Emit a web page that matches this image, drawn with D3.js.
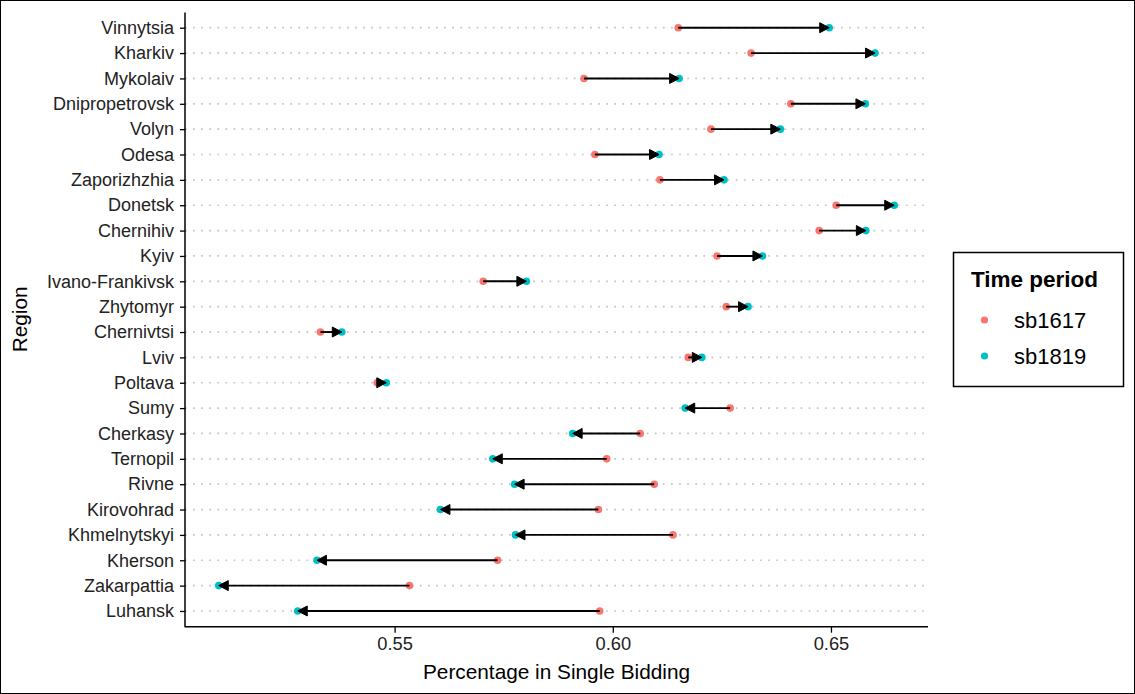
<!DOCTYPE html>
<html>
<head>
<meta charset="utf-8">
<script src="https://cdn.jsdelivr.net/npm/d3@7"></script>
<style>
  html, body { margin: 0; padding: 0; background: #fff; }
  svg { display: block; font-family: "Liberation Sans", Arial, sans-serif; }
</style>
</head>
<body>
<svg id="chart" width="1135" height="694"></svg>
<script>
const regions = ["Vinnytsia","Kharkiv","Mykolaiv","Dnipropetrovsk","Volyn","Odesa","Zaporizhzhia","Donetsk","Chernihiv","Kyiv","Ivano-Frankivsk","Zhytomyr","Chernivtsi","Lviv","Poltava","Sumy","Cherkasy","Ternopil","Rivne","Kirovohrad","Khmelnytskyi","Kherson","Zakarpattia","Luhansk"];
const sb1617 = [0.6150,0.6317,0.5934,0.6408,0.6225,0.5959,0.6108,0.6512,0.6473,0.6239,0.5703,0.6260,0.5330,0.6173,0.5460,0.6269,0.6063,0.5986,0.6095,0.5967,0.6138,0.5736,0.5534,0.5970];
const sb1819 = [0.6496,0.6601,0.6152,0.6579,0.6384,0.6106,0.6255,0.6645,0.6580,0.6343,0.5802,0.6310,0.5379,0.6204,0.5481,0.6166,0.5908,0.5725,0.5775,0.5605,0.5777,0.5322,0.5097,0.5278];
const xTicks = [0.55, 0.60, 0.65];
const periods = ["sb1617", "sb1819"];
const periodColors = ["#F8766D", "#00BFC4"];

const svg = d3.select("#chart");
const W = 1135, H = 694;
const panel = {left: 185, right: 928, top: 12.5, bottom: 626.2};

svg.append("rect").attr("x", 0.5).attr("y", 0.5).attr("width", W - 1).attr("height", H - 1)
  .attr("fill", "#fff").attr("stroke", "#000").attr("stroke-width", 1);

const all = sb1617.concat(sb1819);
const [mn, mx] = d3.extent(all);
const pad = (mx - mn) * 0.05;
const x = d3.scaleLinear().domain([mn - pad, mx + pad]).range([panel.left, panel.right]);
const y = d3.scalePoint().domain(regions).range([panel.top, panel.bottom]).padding(0.6);
const color = d3.scaleOrdinal().domain(periods).range(periodColors);

// grid lines
svg.append("g").selectAll("line").data(regions).join("line")
  .attr("x1", panel.left).attr("x2", panel.right)
  .attr("y1", d => y(d)).attr("y2", d => y(d))
  .attr("stroke", "#c4c4c4").attr("stroke-width", 1.7)
  .attr("stroke-dasharray", "1.7,6.4");

const data = regions.map((r, i) => ({region: r, a: sb1617[i], b: sb1819[i]}));

// points
const pts = [];
data.forEach(d => { pts.push({region: d.region, v: d.a, p: "sb1617"}); pts.push({region: d.region, v: d.b, p: "sb1819"}); });
svg.append("g").selectAll("circle").data(pts).join("circle")
  .attr("cx", d => x(d.v)).attr("cy", d => y(d.region)).attr("r", 3.8)
  .attr("fill", d => color(d.p));

// arrows
const head = 9.5, half = 5;
const ag = svg.append("g");
data.forEach(d => {
  const x1 = x(d.a), x2 = x(d.b), yy = y(d.region);
  const dir = x2 >= x1 ? 1 : -1;
  const base = x2 - dir * head;
  ag.append("line").attr("x1", x1).attr("x2", base).attr("y1", yy).attr("y2", yy)
    .attr("stroke", "#000").attr("stroke-width", 1.9);
  ag.append("path")
    .attr("d", `M${x2},${yy}L${base},${yy - half}L${base},${yy + half}Z`)
    .attr("fill", "#000").attr("stroke", "#000").attr("stroke-width", 1).attr("stroke-linejoin", "miter");
});

// axes
const xAxis = d3.axisBottom(x).tickValues(xTicks).tickFormat(d3.format(".2f")).tickSize(6).tickPadding(4);
const gx = svg.append("g").attr("transform", `translate(0,${panel.bottom + 0.5})`).call(xAxis);
gx.select(".domain").attr("d", `M${panel.left},0H${panel.right}`).attr("stroke", "#000").attr("stroke-width", 1.5);
gx.selectAll(".tick line").attr("stroke", "#000").attr("stroke-width", 1.3);
gx.selectAll(".tick text").attr("font-size", 18.3).attr("fill", "#222").attr("font-family", "Liberation Sans, Arial, sans-serif");

const yAxis = d3.axisLeft(y).tickSize(5).tickPadding(6);
const gy = svg.append("g").attr("transform", `translate(${panel.left},0)`).call(yAxis);
gy.select(".domain").attr("d", `M0,${panel.top}V${panel.bottom + 1}`).attr("stroke", "#000").attr("stroke-width", 1.5);
gy.selectAll(".tick line").attr("stroke", "#000").attr("stroke-width", 1.3);
gy.selectAll(".tick text").attr("font-size", 18).attr("fill", "#222").attr("font-family", "Liberation Sans, Arial, sans-serif");

// axis titles
svg.append("text").attr("x", (panel.left + panel.right) / 2).attr("y", 679)
  .attr("text-anchor", "middle").attr("font-size", 20.8).attr("fill", "#000")
  .text("Percentage in Single Bidding");
svg.append("text").attr("transform", `translate(27,${(panel.top + panel.bottom) / 2}) rotate(-90)`)
  .attr("text-anchor", "middle").attr("font-size", 20.8).attr("fill", "#000")
  .text("Region");

// legend
const lg = svg.append("g");
lg.append("rect").attr("x", 953.5).attr("y", 252.5).attr("width", 170).attr("height", 134)
  .attr("fill", "#fff").attr("stroke", "#000").attr("stroke-width", 1.5);
lg.append("text").attr("x", 971).attr("y", 287).attr("font-size", 22.5).attr("font-weight", "bold")
  .attr("fill", "#000").text("Time period");
periods.forEach((p, i) => {
  const cy = 320 + i * 36;
  lg.append("circle").attr("cx", 984.5).attr("cy", cy).attr("r", 3.6).attr("fill", color(p));
  lg.append("text").attr("x", 1014).attr("y", cy).attr("dy", "0.36em").attr("font-size", 22)
    .attr("fill", "#000").text(p);
});
</script>
</body>
</html>
